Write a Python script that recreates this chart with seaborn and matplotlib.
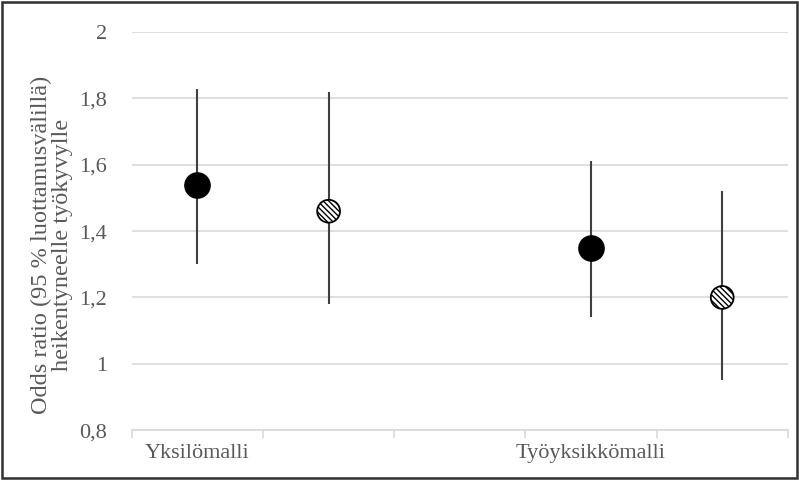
import numpy as np
import pandas as pd
import matplotlib
matplotlib.use("Agg")
import matplotlib.pyplot as plt
import seaborn as sns
from matplotlib.patches import Rectangle

# DATA
categories = ["Yksilömalli", "", "", "Työyksikkömalli", ""]
series_a_pos = [0, 3]
series_a_or = [1.54, 1.35]
series_a_low = [1.30, 1.14]
series_a_high = [1.83, 1.61]
series_b_pos = [1, 4]
series_b_or = [1.46, 1.20]
series_b_low = [1.18, 0.95]
series_b_high = [1.82, 1.52]
y_ticks = [0.8, 1.0, 1.2, 1.4, 1.6, 1.8, 2.0]
y_label = "Odds ratio (95 % luottamusvälillä)\nheikentyneelle työkyvylle"

sns.set_theme(style="white")
plt.rcParams["font.family"] = ["Liberation Serif", "DejaVu Serif"]
plt.rcParams["hatch.linewidth"] = 1.0

df_a = pd.DataFrame({"x": series_a_pos, "or": series_a_or, "lo": series_a_low, "hi": series_a_high})
df_b = pd.DataFrame({"x": series_b_pos, "or": series_b_or, "lo": series_b_low, "hi": series_b_high})

fig = plt.figure(figsize=(7.99, 4.8), dpi=100)
ax = fig.add_axes([0.165, 0.104, 0.821, 0.829])

grid_c = "#d9d9d9"
text_c = "#595959"
line_c = "#404040"

# confidence intervals
for d in (df_a, df_b):
    ax.vlines(d["x"], d["lo"], d["hi"], color=line_c, linewidth=1.5, zorder=3)

sns.scatterplot(data=df_a, x="x", y="or", ax=ax, s=330, color="black",
                edgecolor="black", linewidth=1, zorder=4, legend=False)
sns.scatterplot(data=df_b, x="x", y="or", ax=ax, s=270, facecolor="white",
                edgecolor="black", linewidth=1.3, hatch="\\" * 6, zorder=4, legend=False)

ax.set_xlim(-0.5, len(categories) - 0.5)
ax.set_ylim(0.8, 2.0)
ax.set_yticks(y_ticks)
ax.set_yticklabels([f"{v:g}".replace(".", ",") for v in y_ticks])
ax.set_xticks(range(len(categories)))
ax.set_xticklabels(categories)
ax.set_xticks(np.arange(-0.5, len(categories), 1.0), minor=True)

ax.grid(axis="y", color=grid_c, linewidth=1.2, zorder=0)
ax.set_axisbelow(True)
for s in ["top", "right", "left"]:
    ax.spines[s].set_visible(False)
ax.spines["bottom"].set_color(grid_c)
ax.spines["bottom"].set_linewidth(1.2)

ax.tick_params(axis="x", which="major", length=0, pad=10, labelsize=16, labelcolor=text_c)
ax.tick_params(axis="x", which="minor", bottom=True, length=6, width=1.2, color=grid_c)
ax.tick_params(axis="y", length=0, pad=18, labelsize=16, labelcolor=text_c)

ax.set_xlabel("")
ax.set_ylabel(y_label, fontsize=17.5, color=text_c, linespacing=1.0)
ax.yaxis.set_label_coords(-0.09, 0.465)

# outer frame
fig.patches.append(Rectangle((0.003, 0.005), 0.994, 0.99, transform=fig.transFigure,
                             fill=False, edgecolor="#303030", linewidth=1.8))

fig.savefig("out.png", dpi=100)
